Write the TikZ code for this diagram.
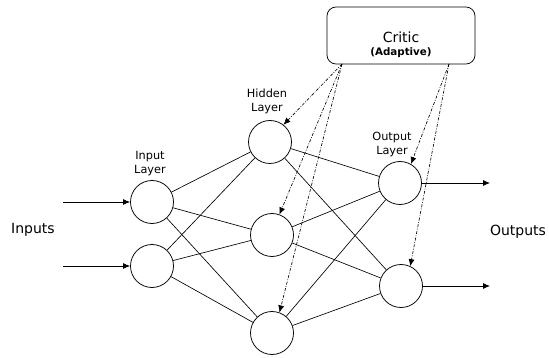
\documentclass[tikz,border=0pt]{standalone}
\usepackage{fontspec}
\setmainfont{DejaVu Sans}
\usetikzlibrary{arrows.meta}
\begin{document}
\begin{tikzpicture}[x=1pt,y=-1pt,
  neuron/.style={circle,draw,line width=0.75pt,minimum size=43pt,inner sep=0pt},
  link/.style={line width=0.65pt},
  feed/.style={line width=0.75pt,-{Latex[length=7pt,width=6pt]}},
  signal/.style={line width=0.65pt,dash pattern=on 3pt off 1.5pt on 0.8pt off 1.5pt,-{Latex[length=7pt,width=6pt]}},
  layerlbl/.style={font=\fontsize{11.3}{14}\selectfont,align=center,inner sep=0pt},
  sidelbl/.style={font=\fontsize{14}{16}\selectfont,inner sep=0pt}]
\useasboundingbox (0,0) rectangle (549,358);

% critic box
\node[draw,line width=0.75pt,rounded corners=9pt,minimum width=148pt,minimum height=57pt,inner sep=0pt] (critic) at (401,35.5) {};
\node[font=\fontsize{14}{16}\selectfont,inner sep=0pt] (ctitle) at (401,37) {Critic};
\node[font=\bfseries\fontsize{10.3}{12}\selectfont,inner sep=0pt] (csub) at (401,53) {(Adaptive)};
\coordinate (cl) at (342,64);
\coordinate (cr) at (449,64);

% neurons
\node[neuron] (i1) at (152,202) {};
\node[neuron] (i2) at (152,266) {};
\node[neuron] (h1) at (270,142) {};
\node[neuron] (h2) at (272,235) {};
\node[neuron] (h3) at (272,333) {};
\node[neuron] (o1) at (400,183) {};
\node[neuron] (o2) at (401,286) {};

% layer labels
\node[layerlbl] (li) at (150,164) {Input\\Layer};
\node[layerlbl] (lh) at (267,101) {Hidden\\Layer};
\node[layerlbl] (lo) at (392,144) {Output\\Layer};
\node[sidelbl] (lin) at (33,230) {Inputs};
\node[sidelbl] (lout) at (518,232) {Outputs};

% weights
\foreach \a in {i1,i2}
  \foreach \b in {h1,h2,h3}
    \draw[link] (\a) -- (\b);
\foreach \a in {h1,h2,h3}
  \foreach \b in {o1,o2}
    \draw[link] (\a) -- (\b);

% inputs and outputs
\coordinate (x1) at (63,202);
\coordinate (x2) at (63,266);
\coordinate (y1) at (490,183);
\coordinate (y2) at (490,286);
\draw[feed] (x1) -- (i1);
\draw[feed] (x2) -- (i2);
\draw[feed] (o1) -- (y1);
\draw[feed] (o2) -- (y2);

% critic signals
\draw[signal] (cl) -- (h1.52);
\draw[signal] (cl) -- (h2.70);
\draw[signal] (cl) -- (h3.70);
\draw[signal] (cr) -- (o1.60);
\draw[signal] (cr) -- (o2.65);
\end{tikzpicture}
\end{document}
